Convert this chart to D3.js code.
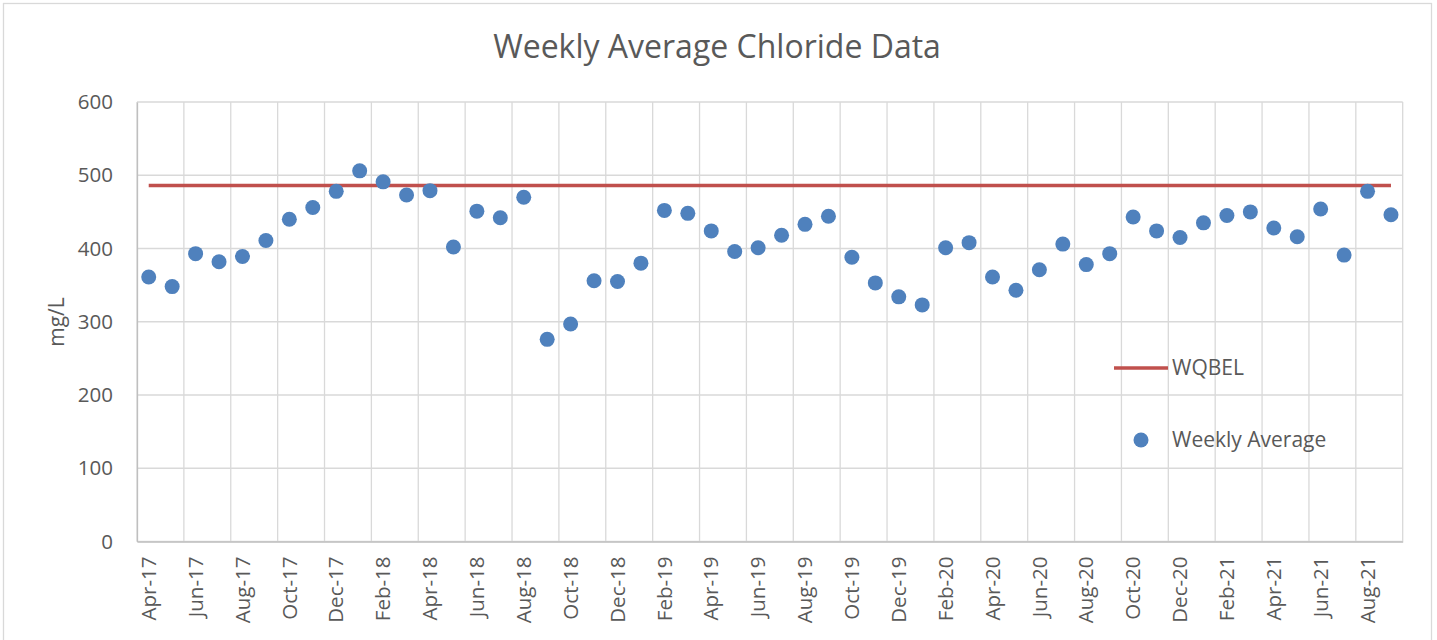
<!DOCTYPE html>
<html>
<head>
<meta charset="utf-8">
<script src="https://cdn.jsdelivr.net/npm/d3@7"></script>
<style>
  body { margin: 0; background: #fff; }
  text { font-family: 'Open Sans', sans-serif; fill: #595959; }
</style>
</head>
<body>
<svg id="chart" width="1437" height="640"></svg>
<script>
var firstMonth = new Date(2017, 3, 1)
var lastMonth = new Date(2021, 8, 1)

var weeklyAverage = [
  361, 348, 393, 382, 389, 411, 440, 456, 478, 506,
  491, 473, 479, 402, 451, 442, 470, 276, 297, 356,
  355, 380, 452, 448, 424, 396, 401, 418, 433, 444,
  388, 353, 334, 323, 401, 408, 361, 343, 371, 406,
  378, 393, 443, 424, 415, 435, 445, 450, 428, 416,
  454, 391, 478, 446
]
var wqbel = 486
var yTicks = [0, 100, 200, 300, 400, 500, 600]
var seriesNames = ['WQBEL', 'Weekly Average']

function drawChart () {
  var svg = d3.select('#chart')
  var margin = { left: 137, right: 1402.7, top: 102, bottom: 541.5 }
  var months = d3.timeMonth.range(firstMonth, d3.timeMonth.offset(lastMonth, 1))
  var fmt = d3.timeFormat('%b-%y')

  svg.append('rect')
      .attr('x', 3.5)
      .attr('y', 3.5)
      .attr('width', 1428)
      .attr('height', 660)
      .attr('fill', '#fff')
      .attr('stroke', '#d9d9d9')
      .attr('stroke-width', 1.3)

  var x = d3.scaleBand()
      .domain(months)
      .range([margin.left, margin.right])
      .paddingInner(0)
      .paddingOuter(0)
  var cx = function (d) { return x(d) + x.bandwidth() / 2 }

  var y = d3.scaleLinear()
      .domain([0, 600])
      .range([margin.bottom, margin.top])

  // horizontal gridlines
  svg.append('g')
    .selectAll('line')
    .data(yTicks)
    .enter().append('line')
      .attr('x1', margin.left)
      .attr('x2', margin.right)
      .attr('y1', function (d) { return y(d) })
      .attr('y2', function (d) { return y(d) })
      .attr('stroke', '#d9d9d9')
      .attr('stroke-width', 1.3)

  // vertical gridlines every two months
  var gridX = months.filter(function (d, i) { return i % 2 === 0 })
    .map(function (d) { return x(d) })
  gridX.push(margin.right)
  svg.append('g')
    .selectAll('line')
    .data(gridX)
    .enter().append('line')
      .attr('x1', function (d) { return d })
      .attr('x2', function (d) { return d })
      .attr('y1', margin.top)
      .attr('y2', margin.bottom)
      .attr('stroke', '#d9d9d9')
      .attr('stroke-width', 1.3)

  var yAxis = svg.append('g')
      .attr('transform', 'translate(' + margin.left + ',0)')
      .call(d3.axisLeft(y).tickValues(yTicks).tickSize(0).tickPadding(24))
  yAxis.select('.domain').attr('stroke', '#bfbfbf').attr('stroke-width', 1.3)
  yAxis.selectAll('text').style('font-size', '20.5px').attr('fill', '#595959')

  var xAxis = svg.append('g')
      .attr('transform', 'translate(0,' + margin.bottom + ')')
      .call(d3.axisBottom(x)
        .tickValues(months.filter(function (d, i) { return i % 2 === 0 }))
        .tickFormat(fmt)
        .tickSize(0))
  xAxis.select('.domain').attr('stroke', '#bfbfbf').attr('stroke-width', 1.3)
  xAxis.selectAll('text')
      .style('font-size', '20.5px')
      .attr('fill', '#595959')
      .attr('text-anchor', 'end')
      .attr('dy', '0.35em')
      .attr('x', 0)
      .attr('y', 0)
      .attr('transform', 'translate(0,15) rotate(-90)')

  svg.append('text')
      .attr('x', 717)
      .attr('y', 58)
      .attr('text-anchor', 'middle')
      .style('font-size', '32px')
      .text('Weekly Average Chloride Data')

  svg.append('text')
      .attr('transform', 'translate(57,322) rotate(-90)')
      .attr('text-anchor', 'middle')
      .attr('dy', '0.35em')
      .style('font-size', '21px')
      .text('mg/L')

  svg.append('line')
      .attr('x1', cx(months[0]))
      .attr('x2', cx(months[months.length - 1]))
      .attr('y1', y(wqbel))
      .attr('y2', y(wqbel))
      .attr('stroke', '#c0504d')
      .attr('stroke-width', 3.5)

  svg.append('g')
    .selectAll('circle')
    .data(weeklyAverage)
    .enter().append('circle')
      .attr('cx', function (d, i) { return cx(months[i]) })
      .attr('cy', function (d) { return y(d) })
      .attr('r', 7.5)
      .attr('fill', '#4f81bd')

  // legend
  var legend = svg.append('g')
  legend.append('line')
      .attr('x1', 1114)
      .attr('x2', 1168)
      .attr('y1', 368)
      .attr('y2', 368)
      .attr('stroke', '#c0504d')
      .attr('stroke-width', 3.5)
  legend.append('circle')
      .attr('cx', 1141)
      .attr('cy', 440)
      .attr('r', 7.5)
      .attr('fill', '#4f81bd')
  legend.selectAll('text')
    .data(seriesNames)
    .enter().append('text')
      .attr('x', 1172)
      .attr('y', function (d, i) { return i === 0 ? 368 : 440 })
      .attr('dy', '0.35em')
      .style('font-size', '21px')
      .text(function (d) { return d })
}

drawChart()
</script>
</body>
</html>
